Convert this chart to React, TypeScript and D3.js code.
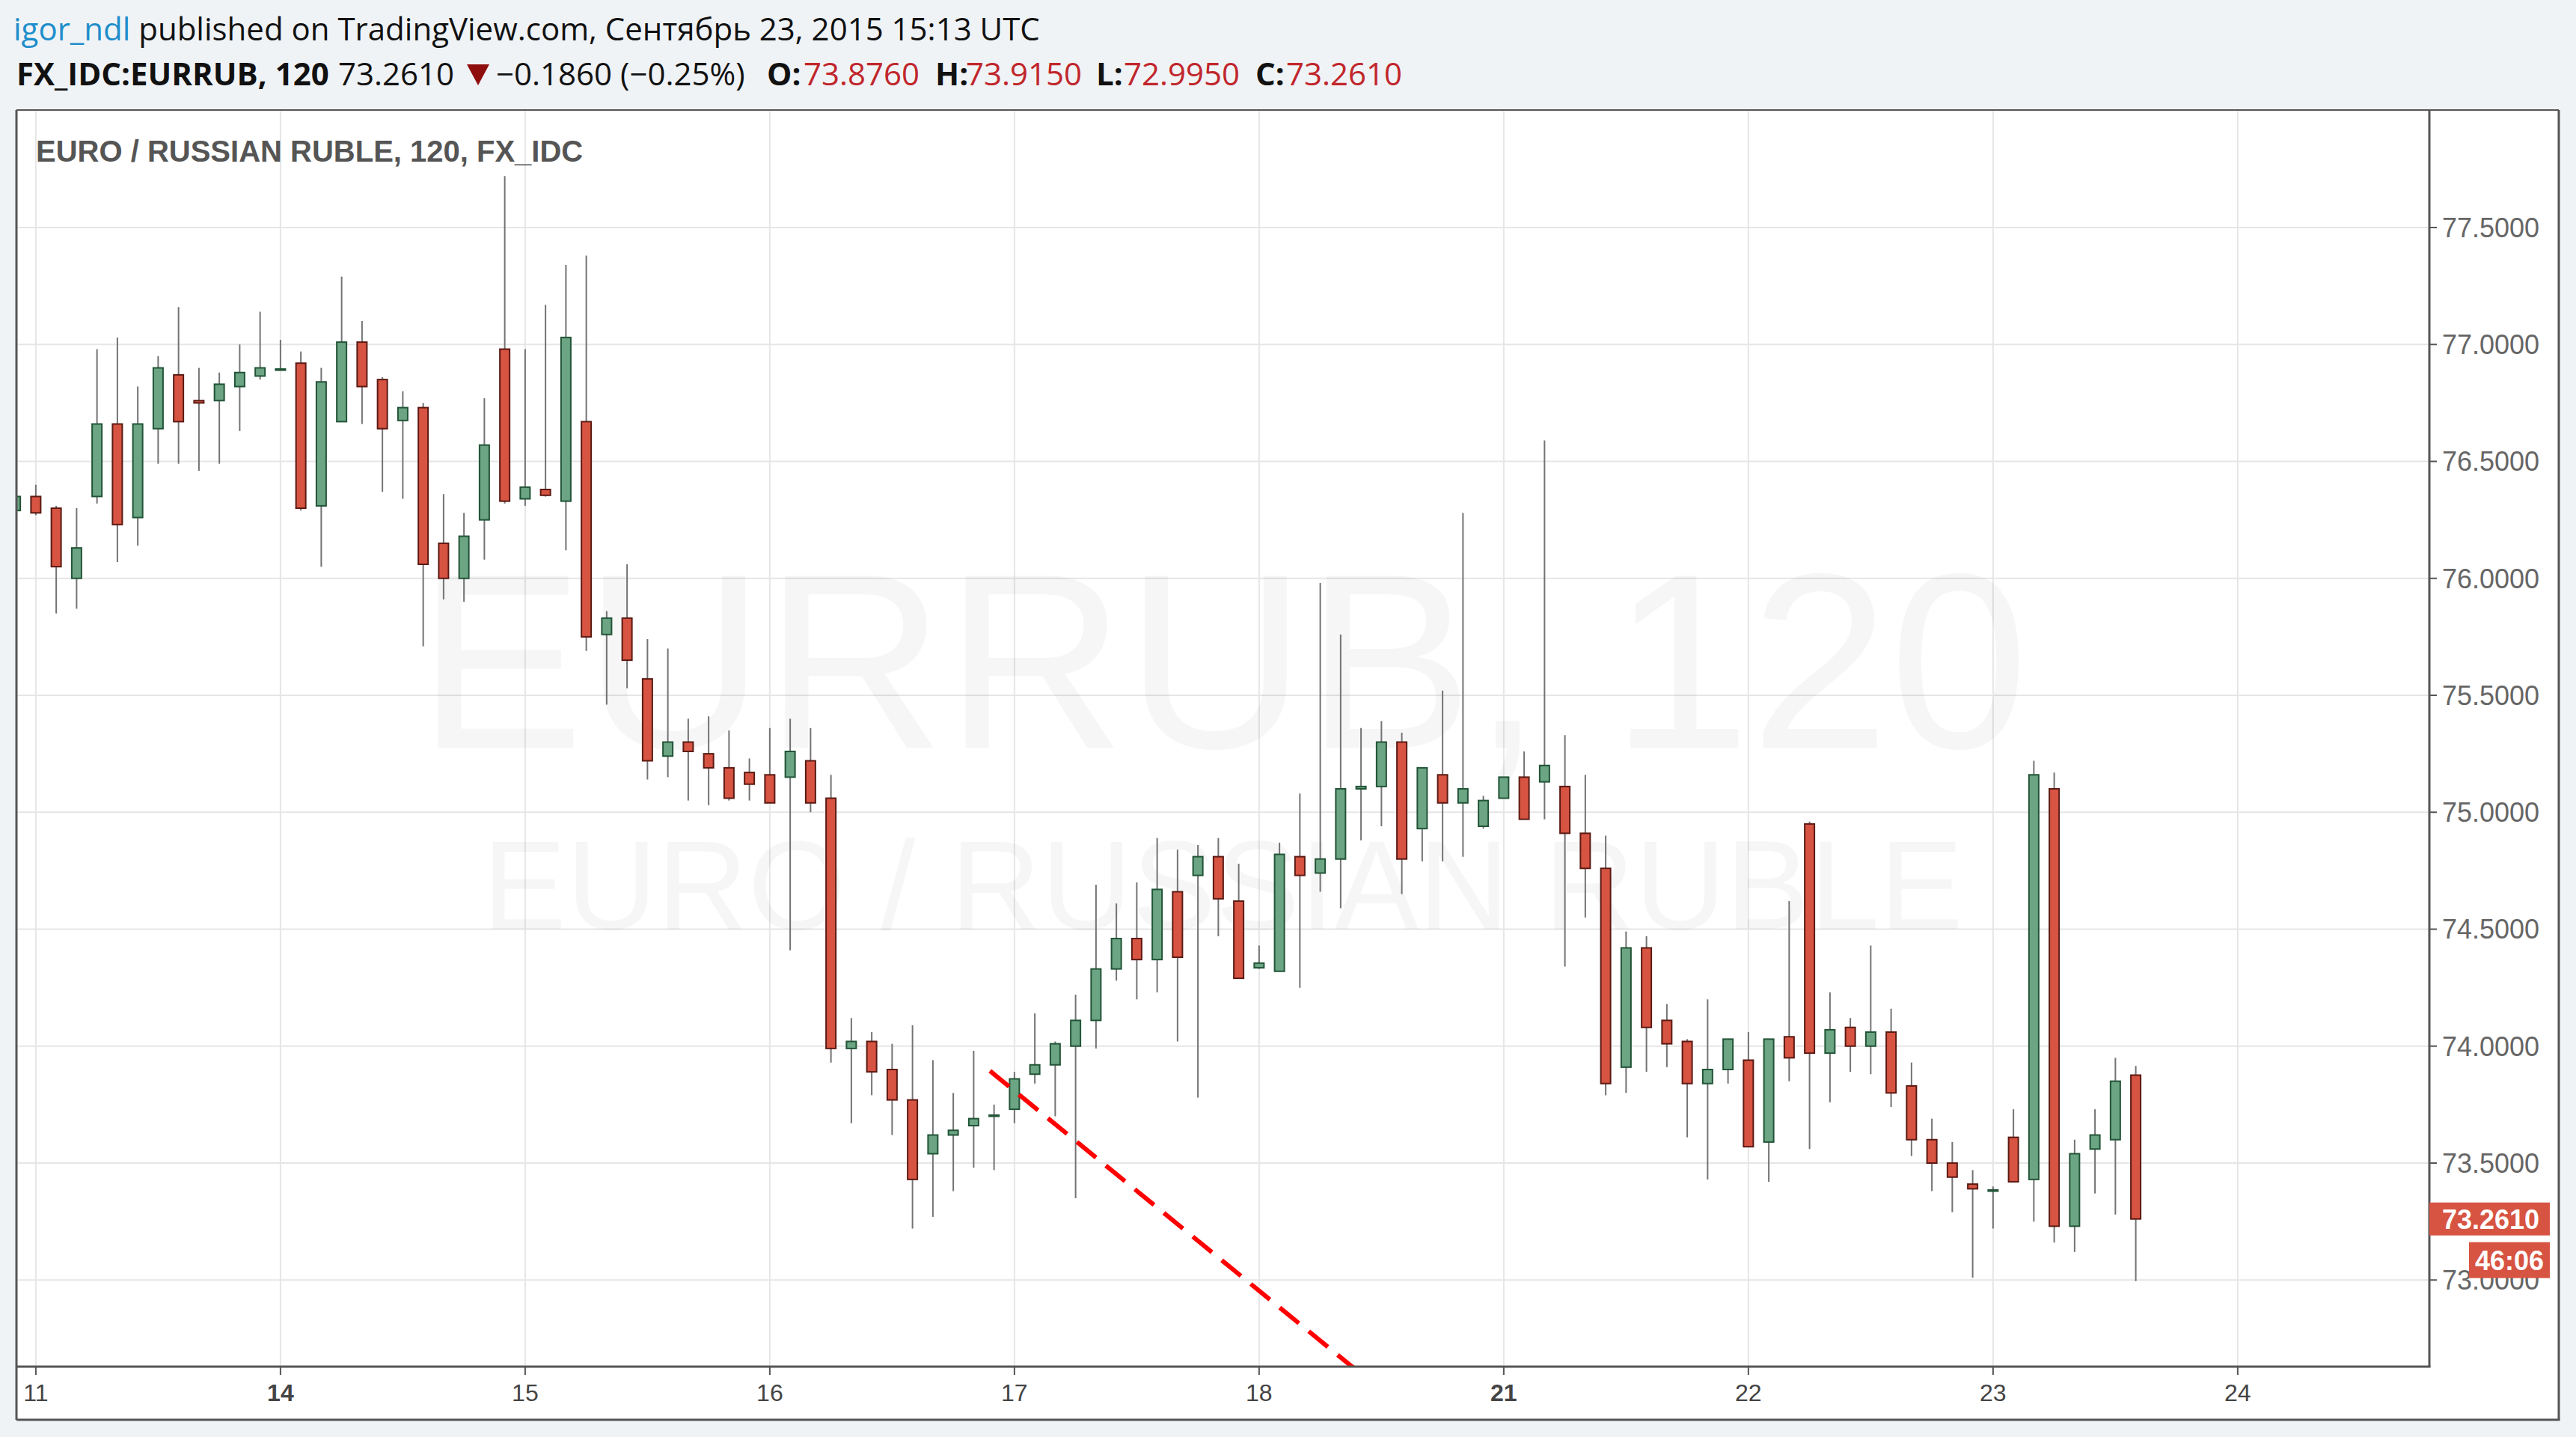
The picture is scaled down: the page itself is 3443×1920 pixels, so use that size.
import React from "react";
import * as d3 from "d3";

const W = 3443;
const H = 1920;

// 2-hour bars, index -1 = Sep 10 22:00, index 0 = Sep 11 00:00
const firstBar = -1;
const opens = [
  76.29, 76.35, 76.30, 76.00, 76.35, 76.66, 76.26, 76.64, 76.87, 76.76, 76.76, 76.82, 76.865,
  76.89, 76.92, 76.31, 76.67, 77.01, 76.85, 76.675, 76.73, 76.15, 76.00, 76.25, 76.98, 76.34,
  76.38, 76.33, 76.67, 75.76, 75.83, 75.57, 75.24, 75.30, 75.25, 75.19, 75.17, 75.16, 75.15,
  75.22, 75.06, 73.99, 74.02, 73.90, 73.77, 73.54, 73.62, 73.66, 73.70, 73.73, 73.88, 73.92,
  74.00, 74.11, 74.33, 74.46, 74.37, 74.66, 74.73, 74.81, 74.62, 74.335, 74.32, 74.81, 74.74,
  74.80, 75.10, 75.11, 75.30, 74.93, 75.16, 75.04, 74.94, 75.06, 75.15, 75.13, 75.11, 74.91,
  74.76, 73.91, 74.42, 74.11, 74.02, 73.84, 73.90, 73.94, 73.59, 74.04, 74.95, 73.97, 74.08,
  74.00, 74.06, 73.83, 73.60, 73.50, 73.41, 73.38, 73.61, 73.43, 75.10, 73.23, 73.56, 73.60,
  73.876,
];
const highs = [
  76.40, 76.40, 76.31, 76.30, 76.98, 77.03, 76.82, 76.95, 77.16, 76.90, 76.88, 77.00, 77.14,
  77.02, 76.97, 76.90, 77.29, 77.10, 76.86, 76.80, 76.75, 76.36, 76.28, 76.77, 77.72, 76.98,
  77.17, 77.34, 77.38, 75.86, 76.06, 75.74, 75.70, 75.40, 75.41, 75.35, 75.23, 75.36, 75.40,
  75.36, 75.16, 74.12, 74.06, 74.01, 74.09, 73.94, 73.80, 73.98, 73.75, 73.89, 74.14, 74.02,
  74.22, 74.69, 74.61, 74.70, 74.89, 74.84, 74.86, 74.89, 74.78, 74.43, 74.87, 75.08, 75.98,
  75.76, 75.36, 75.39, 75.34, 75.19, 75.52, 76.28, 75.07, 75.15, 75.26, 76.59, 75.33, 75.16,
  74.90, 74.49, 74.47, 74.18, 74.03, 74.20, 74.03, 74.06, 74.03, 74.62, 74.96, 74.23, 74.12,
  74.43, 74.16, 73.93, 73.69, 73.59, 73.47, 73.40, 73.73, 75.22, 75.17, 73.60, 73.73, 73.95,
  73.915,
];
const lows = [
  76.26, 76.27, 75.85, 75.87, 76.32, 76.07, 76.14, 76.49, 76.49, 76.46, 76.49, 76.63, 76.85,
  76.89, 76.29, 76.05, 76.67, 76.66, 76.37, 76.34, 75.71, 75.91, 75.90, 76.08, 76.32, 76.31,
  76.35, 76.12, 75.69, 75.46, 75.53, 75.14, 75.15, 75.05, 75.03, 75.05, 75.05, 75.04, 74.41,
  75.00, 73.93, 73.67, 73.79, 73.62, 73.22, 73.27, 73.38, 73.48, 73.47, 73.67, 73.84, 73.70,
  73.35, 73.99, 74.28, 74.20, 74.23, 74.02, 73.78, 74.47, 74.29, 74.33, 74.32, 74.25, 74.66,
  74.59, 74.88, 74.94, 74.65, 74.79, 74.79, 74.81, 74.93, 75.06, 74.97, 74.97, 74.34, 74.55,
  73.79, 73.80, 73.89, 73.91, 73.61, 73.43, 73.84, 73.57, 73.42, 73.85, 73.56, 73.76, 73.89,
  73.88, 73.74, 73.53, 73.38, 73.29, 73.01, 73.22, 73.42, 73.25, 73.16, 73.12, 73.37, 73.28,
  72.995,
];
const closes = [
  76.35, 76.28, 76.05, 76.13, 76.66, 76.23, 76.66, 76.90, 76.67, 76.75, 76.83, 76.88, 76.90,
  76.895, 76.30, 76.84, 77.01, 76.82, 76.64, 76.73, 76.06, 76.00, 76.18, 76.57, 76.33, 76.39,
  76.355, 77.03, 75.75, 75.83, 75.65, 75.22, 75.30, 75.26, 75.19, 75.06, 75.12, 75.04, 75.26,
  75.04, 73.99, 74.02, 73.89, 73.77, 73.43, 73.62, 73.64, 73.69, 73.705, 73.86, 73.92, 74.01,
  74.11, 74.33, 74.46, 74.37, 74.67, 74.38, 74.81, 74.63, 74.29, 74.355, 74.82, 74.73, 74.80,
  75.10, 75.11, 75.30, 74.80, 75.19, 75.04, 75.10, 75.05, 75.15, 74.97, 75.20, 74.91, 74.76,
  73.84, 74.42, 74.08, 74.01, 73.84, 73.90, 74.03, 73.57, 74.03, 73.95, 73.97, 74.07, 74.00,
  74.06, 73.80, 73.60, 73.50, 73.44, 73.39, 73.385, 73.42, 75.16, 73.23, 73.54, 73.62, 73.85,
  73.261,
];

const dayLabels = ["11", "14", "15", "16", "17", "18", "21", "22", "23", "24"];
const dayBars = [0, 12, 24, 36, 48, 60, 72, 84, 96, 108];
const boldDays = ["14", "21"];
const priceTicks = [77.5, 77.0, 76.5, 76.0, 75.5, 75.0, 74.5, 74.0, 73.5, 73.0];
const trendStart = { bar: 46.8, price: 73.894 };
const trendEnd = { bar: 70, price: 72.242 };
const prevClose = 73.447;
const countdown = "46:06";

const GREEN_FILL = "#6BA583";
const GREEN_LINE = "#225437";
const RED_FILL = "#D75442";
const RED_LINE = "#5B1A13";
const WICK = "#737375";

export default function App() {
  const plotL = 22, plotR = 3247, plotT = 147, plotB = 1826;
  const frameR = 3420, frameB = 1897;

  const x = d3.scaleLinear().domain([-0.95, 117.4]).range([plotL, plotR]);
  const y = d3.scaleLinear().domain([73, 77.5]).range([1710.25, 304]);
  const fmt = d3.format(".4f");

  const bars = opens.map((o, k) => ({
    i: firstBar + k,
    o,
    h: highs[k],
    l: lows[k],
    c: closes[k],
  }));
  const last = bars[bars.length - 1];
  const change = last.c - prevClose;
  const changePct = (change / prevClose) * 100;

  const bodyW = 13;
  const headerFont = "'Open Sans', 'Liberation Sans', Arial, sans-serif";
  const axisFont = "'Liberation Sans', Arial, sans-serif";

  return (
    <svg
      width={W}
      height={H}
      viewBox={`0 0 ${W} ${H}`}
      style={{ position: "fixed", left: 0, top: 0 }}
    >
      <defs>
        <clipPath id="plotClip">
          <rect x={plotL} y={plotT} width={plotR - plotL} height={plotB - plotT} />
        </clipPath>
      </defs>
      <rect x={0} y={0} width={W} height={H} fill="#F0F3F6" />
      <rect x={plotL} y={plotT} width={frameR - plotL} height={frameB - plotT} fill="#FFFFFF" />

      {/* Header */}
      <text x={18} y={54} fontFamily={headerFont} fontSize={42} fill="#111">
        <tspan fill="#1E8ECB">igor_ndl</tspan>
        <tspan> published on TradingView.com, Сентябрь 23, 2015 15:13 UTC</tspan>
      </text>
      <g fontFamily={headerFont} fontSize={42} fill="#111">
        <text x={22} y={114} fontWeight="bold">FX_IDC:EURRUB, 120</text>
        <text x={452} y={114}>{fmt(last.c)}</text>
        <path d="M624,86 L654,86 L639,114 Z" fill="#8E0E0E" />
        <text x={663} y={114}>
          {`−${fmt(Math.abs(change))} (−${Math.abs(changePct).toFixed(2)}%)`}
        </text>
        <text x={1025} y={114} fontWeight="bold">O:</text>
        <text x={1074} y={114} fill="#C0262B">{fmt(last.o)}</text>
        <text x={1250} y={114} fontWeight="bold">H:</text>
        <text x={1291} y={114} fill="#C0262B">{fmt(last.h)}</text>
        <text x={1465} y={114} fontWeight="bold">L:</text>
        <text x={1502} y={114} fill="#C0262B">{fmt(last.l)}</text>
        <text x={1678} y={114} fontWeight="bold">C:</text>
        <text x={1719} y={114} fill="#C0262B">{fmt(last.c)}</text>
      </g>

      {/* Grid */}
      <g clipPath="url(#plotClip)">
        {priceTicks.map((p) => (
          <line key={"h" + p} x1={plotL} x2={plotR} y1={y(p)} y2={y(p)} stroke="#E6E6E6" strokeWidth={2} />
        ))}
        {dayBars.map((b) => (
          <line key={"v" + b} x1={x(b)} x2={x(b)} y1={plotT} y2={plotB} stroke="#E6E6E6" strokeWidth={2} />
        ))}
      </g>

      {/* Watermark */}
      <g fontFamily={axisFont} fill="#000" fillOpacity={0.035} textAnchor="middle">
        <text x={(plotL + plotR) / 2} y={999} fontSize={334}>EURRUB, 120</text>
        <text x={(plotL + plotR) / 2} y={1241} fontSize={168}>EURO / RUSSIAN RUBLE</text>
      </g>

      {/* Title */}
      <text x={48} y={216} fontFamily={axisFont} fontWeight="bold" fontSize={40} fill="#555">
        EURO / RUSSIAN RUBLE, 120, FX_IDC
      </text>

      {/* Candles */}
      <g clipPath="url(#plotClip)">
        {bars.map((b) => {
          const cx = x(b.i);
          const up = b.c >= b.o;
          const top = y(Math.max(b.o, b.c));
          const bot = y(Math.min(b.o, b.c));
          return (
            <g key={b.i}>
              <line x1={cx} x2={cx} y1={y(b.h)} y2={y(b.l)} stroke={WICK} strokeWidth={2} />
              <rect
                x={cx - bodyW / 2}
                y={top}
                width={bodyW}
                height={Math.max(1, bot - top)}
                fill={up ? GREEN_FILL : RED_FILL}
                stroke={up ? GREEN_LINE : RED_LINE}
                strokeWidth={2}
              />
            </g>
          );
        })}
        {/* Trend line */}
        <line
          x1={x(trendStart.bar)}
          y1={y(trendStart.price)}
          x2={x(trendEnd.bar)}
          y2={y(trendEnd.price)}
          stroke="#FF0000"
          strokeWidth={6}
          strokeDasharray="33 17"
        />
      </g>

      {/* Frame and axes */}
      <line x1={plotL} x2={frameR} y1={plotT} y2={plotT} stroke="#555" strokeWidth={2} />
      <line x1={plotL} x2={plotL} y1={plotT} y2={frameB} stroke="#555" strokeWidth={3} />
      <line x1={plotR} x2={plotR} y1={plotT} y2={plotB} stroke="#555" strokeWidth={3} />
      <line x1={plotL} x2={plotR + 1.5} y1={plotB} y2={plotB} stroke="#555" strokeWidth={3} />
      <line x1={frameR} x2={frameR} y1={plotT} y2={frameB} stroke="#555" strokeWidth={3} />
      <line x1={plotL} x2={frameR + 1.5} y1={frameB} y2={frameB} stroke="#555" strokeWidth={3} />

      {/* Y axis */}
      <g fontFamily={axisFont} fontSize={36} fill="#666">
        {priceTicks.map((p) => (
          <g key={"yt" + p}>
            <line x1={plotR} x2={plotR + 10} y1={y(p)} y2={y(p)} stroke="#555" strokeWidth={2} />
            <text x={3264} y={y(p)} dy="0.36em">{fmt(p)}</text>
          </g>
        ))}
      </g>

      {/* X axis */}
      <g fontFamily={axisFont} fontSize={32} fill="#444" textAnchor="middle">
        {dayBars.map((b, k) => (
          <g key={"xt" + b}>
            <line x1={x(b)} x2={x(b)} y1={plotB} y2={plotB + 11} stroke="#555" strokeWidth={2} />
            <text x={x(b)} y={1872} fontWeight={boldDays.includes(dayLabels[k]) ? "bold" : "normal"}>
              {dayLabels[k]}
            </text>
          </g>
        ))}
      </g>

      {/* Last price labels */}
      <g fontFamily={axisFont} fontSize={36} fill="#FFFFFF">
        <rect x={plotR} y={y(last.c) - 22} width={161} height={44} fill={RED_FILL} />
        <text x={3264} y={y(last.c)} dy="0.36em" fontWeight="bold">{fmt(last.c)}</text>
        <rect x={3300} y={y(last.c) + 31} width={108} height={48} fill={RED_FILL} />
        <text x={3354} y={y(last.c) + 55} dy="0.36em" textAnchor="middle" fontWeight="bold">{countdown}</text>
      </g>
    </svg>
  );
}
